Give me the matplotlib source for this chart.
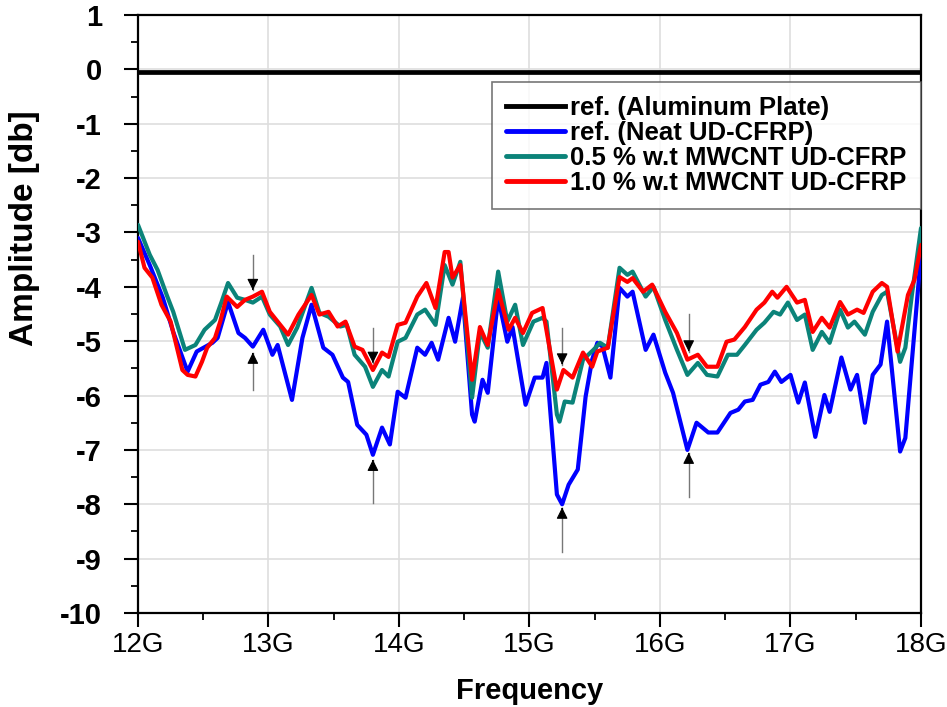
import matplotlib
matplotlib.use("Agg")
import matplotlib.pyplot as plt
from matplotlib.ticker import MultipleLocator

plt.rcParams['font.family'] = ['Liberation Sans', 'DejaVu Sans']
plt.rcParams['axes.unicode_minus'] = False

# ---------------- data ----------------
alu_freq = [12.0, 18.0]
alu_amp = [-0.04, -0.04]

blue_freq = [12.00, 12.09, 12.19, 12.27, 12.38, 12.45, 12.57, 12.61, 12.69, 12.77, 12.82, 12.88,
             12.96, 13.03, 13.07, 13.18, 13.26, 13.33, 13.42, 13.49, 13.57, 13.61, 13.68, 13.75,
             13.80, 13.87, 13.93, 13.99, 14.05, 14.14, 14.20, 14.25, 14.30, 14.38, 14.43, 14.49,
             14.56, 14.58, 14.64, 14.68, 14.76, 14.83, 14.87, 14.97, 15.04, 15.10, 15.13, 15.21,
             15.25, 15.30, 15.37, 15.43, 15.48, 15.52, 15.56, 15.62, 15.69, 15.75, 15.79, 15.89,
             15.95, 16.04, 16.10, 16.21, 16.28, 16.37, 16.44, 16.54, 16.60, 16.65, 16.71, 16.77,
             16.83, 16.88, 16.93, 17.00, 17.06, 17.11, 17.19, 17.26, 17.30, 17.39, 17.46, 17.51,
             17.57, 17.63, 17.69, 17.74, 17.84, 17.88, 18.00]
blue_amp = [-3.10, -3.60, -4.20, -4.83, -5.56, -5.19, -5.03, -4.94, -4.28, -4.85, -4.94, -5.10,
            -4.79, -5.25, -5.07, -6.08, -4.94, -4.33, -5.12, -5.25, -5.67, -5.75, -6.54, -6.72,
            -7.09, -6.59, -6.90, -5.93, -6.04, -5.12, -5.25, -5.03, -5.34, -4.57, -5.01, -4.20,
            -6.35, -6.48, -5.71, -5.95, -4.20, -5.01, -4.74, -6.17, -5.67, -5.67, -5.40, -7.82,
            -8.00, -7.64, -7.36, -6.02, -5.34, -5.03, -5.10, -5.67, -4.02, -4.18, -4.09, -5.16,
            -4.88, -5.58, -5.95, -7.00, -6.50, -6.68, -6.68, -6.32, -6.26, -6.11, -6.08, -5.80,
            -5.75, -5.56, -5.75, -5.62, -6.13, -5.76, -6.76, -5.99, -6.30, -5.30, -5.89, -5.62,
            -6.50, -5.62, -5.43, -4.64, -7.03, -6.78, -3.40]

teal_freq = [12.00, 12.09, 12.15, 12.22, 12.27, 12.36, 12.44, 12.51, 12.59, 12.64, 12.69, 12.76,
             12.82, 12.88, 12.95, 13.01, 13.09, 13.15, 13.22, 13.33, 13.39, 13.46, 13.55, 13.60,
             13.66, 13.74, 13.80, 13.87, 13.92, 13.99, 14.05, 14.14, 14.20, 14.28, 14.35, 14.41,
             14.47, 14.56, 14.62, 14.68, 14.76, 14.83, 14.89, 14.95, 15.03, 15.10, 15.13, 15.21,
             15.23, 15.27, 15.33, 15.41, 15.49, 15.54, 15.60, 15.69, 15.75, 15.79, 15.89, 15.95,
             16.04, 16.13, 16.21, 16.29, 16.36, 16.44, 16.52, 16.59, 16.65, 16.74, 16.80, 16.87,
             16.92, 16.98, 17.05, 17.11, 17.17, 17.24, 17.30, 17.38, 17.44, 17.49, 17.57, 17.63,
             17.70, 17.74, 17.84, 17.88, 17.93, 18.00]
teal_amp = [-2.86, -3.41, -3.69, -4.15, -4.46, -5.16, -5.07, -4.79, -4.61, -4.28, -3.93, -4.20,
            -4.24, -4.29, -4.18, -4.51, -4.73, -5.07, -4.75, -4.02, -4.48, -4.55, -4.73, -4.70,
            -5.25, -5.47, -5.84, -5.53, -5.65, -5.01, -4.94, -4.51, -4.42, -4.70, -3.60, -3.96,
            -3.54, -6.04, -4.83, -5.12, -3.72, -4.64, -4.33, -5.07, -4.64, -4.57, -4.64, -6.35,
            -6.48, -6.11, -6.13, -5.34, -5.16, -5.03, -5.12, -3.65, -3.78, -3.72, -4.18, -4.00,
            -4.61, -5.16, -5.62, -5.40, -5.62, -5.65, -5.25, -5.25, -5.07, -4.79, -4.66, -4.46,
            -4.51, -4.29, -4.61, -4.51, -5.16, -4.83, -5.03, -4.42, -4.75, -4.64, -4.88, -4.46,
            -4.15, -4.09, -5.38, -5.12, -4.15, -2.92]

red_freq = [12.00, 12.05, 12.11, 12.18, 12.25, 12.34, 12.38, 12.44, 12.49, 12.53, 12.59, 12.63,
            12.68, 12.76, 12.82, 12.88, 12.95, 13.01, 13.07, 13.15, 13.23, 13.33, 13.39, 13.46,
            13.53, 13.59, 13.66, 13.72, 13.80, 13.87, 13.92, 13.99, 14.05, 14.14, 14.21, 14.28,
            14.35, 14.38, 14.41, 14.47, 14.56, 14.62, 14.68, 14.76, 14.84, 14.89, 14.95, 15.02,
            15.10, 15.21, 15.26, 15.33, 15.41, 15.48, 15.52, 15.60, 15.69, 15.75, 15.79, 15.87,
            15.94, 16.04, 16.13, 16.21, 16.29, 16.36, 16.44, 16.51, 16.57, 16.65, 16.74, 16.80,
            16.86, 16.90, 16.97, 17.05, 17.11, 17.17, 17.24, 17.30, 17.38, 17.44, 17.51, 17.56,
            17.63, 17.70, 17.74, 17.82, 17.90, 17.95, 18.00]
red_amp = [-3.17, -3.65, -3.83, -4.33, -4.64, -5.53, -5.62, -5.65, -5.38, -5.12, -4.94, -4.64,
           -4.18, -4.37, -4.24, -4.18, -4.09, -4.46, -4.64, -4.88, -4.51, -4.15, -4.51, -4.46,
           -4.73, -4.64, -5.10, -5.16, -5.53, -5.21, -5.29, -4.70, -4.66, -4.18, -3.93, -4.39,
           -3.36, -3.36, -3.83, -3.60, -5.71, -4.74, -5.07, -4.06, -4.79, -4.57, -4.85, -4.48,
           -4.39, -5.89, -5.53, -5.67, -5.21, -5.47, -5.19, -5.12, -3.82, -3.91, -3.84, -4.09,
           -3.96, -4.46, -4.85, -5.34, -5.25, -5.47, -5.47, -5.01, -4.97, -4.74, -4.42, -4.29,
           -4.09, -4.20, -4.00, -4.29, -4.24, -4.83, -4.57, -4.75, -4.28, -4.51, -4.42, -4.48,
           -4.09, -3.93, -4.00, -5.19, -4.15, -3.87, -3.23]

# annotation arrows: x position, down-arrow (start, tip), up-arrow (start, tip)
arrow_x = [12.88, 13.80, 15.25, 16.22]
down_start = [-3.41, -4.75, -4.75, -4.50]
down_tip = [-4.06, -5.40, -5.43, -5.19]
up_start = [-5.89, -7.97, -8.87, -7.86]
up_tip = [-5.21, -7.18, -8.06, -7.05]

series_labels = ["ref. (Aluminum Plate)", "ref. (Neat UD-CFRP)",
                 "0.5 % w.t MWCNT UD-CFRP", "1.0 % w.t MWCNT UD-CFRP"]
xtick_vals = [12, 13, 14, 15, 16, 17, 18]
xtick_labels = ["12G", "13G", "14G", "15G", "16G", "17G", "18G"]
ytick_vals = [1, 0, -1, -2, -3, -4, -5, -6, -7, -8, -9, -10]
ytick_labels = ["1", "0", "-1", "-2", "-3", "-4", "-5", "-6", "-7", "-8", "-9", "-10"]

# ---------------- plot ----------------
fig = plt.figure(figsize=(9.47, 7.07), dpi=100)
ax = fig.add_axes([138/947, 1-613/707, (921-138)/947, (613-15)/707])

line_kw = dict(solid_joinstyle='round', solid_capstyle='round')
ax.plot(alu_freq, alu_amp, color='black', lw=3.4, label=series_labels[0], zorder=5)
ax.plot(blue_freq, blue_amp, color='#0000FF', lw=3.0, label=series_labels[1], zorder=3, **line_kw)
ax.plot(teal_freq, teal_amp, color='#0B8379', lw=3.0, label=series_labels[2], zorder=3, **line_kw)
ax.plot(red_freq, red_amp, color='#FF0000', lw=3.0, label=series_labels[3], zorder=4, **line_kw)

for xa, ds, dt, us, ut in zip(arrow_x, down_start, down_tip, up_start, up_tip):
    for s, t in ((ds, dt), (us, ut)):
        ax.plot([xa, xa], [s, t], color='#777777', lw=1.0, zorder=6)
        d = 0.02 if t < s else -0.02
        ax.annotate('', xy=(xa, t), xytext=(xa, t + d),
                    arrowprops=dict(arrowstyle='-|>', color='black', lw=0.8,
                                    mutation_scale=17, shrinkA=0, shrinkB=0), zorder=7)

ax.set_xlim(12, 18)
ax.set_ylim(-10, 1)
ax.set_xticks(xtick_vals)
ax.set_xticklabels(xtick_labels, fontsize=20)
ax.set_yticks(ytick_vals)
ax.set_yticklabels(ytick_labels, fontsize=21, fontweight='bold')
ax.xaxis.set_minor_locator(MultipleLocator(0.5))
ax.yaxis.set_minor_locator(MultipleLocator(0.5))
ax.tick_params(axis='both', which='major', direction='out', length=10, width=1.5)
ax.tick_params(axis='x', which='major', pad=4)
ax.tick_params(axis='y', which='major', pad=16)
ax.tick_params(axis='both', which='minor', direction='out', length=5, width=1.3)
ax.tick_params(top=False, right=False, which='both')

ax.grid(True, which='major', color='#dedede', lw=1.2, zorder=0)
ax.set_axisbelow(True)
for sp in ax.spines.values():
    sp.set_linewidth(1.6)
    sp.set_color('black')

ax.set_xlabel("Frequency", fontsize=21, fontweight='bold')
ax.xaxis.set_label_coords(0.5, -0.107)
ax.xaxis.label.set_va('top')
ax.set_ylabel("Amplitude [db]", fontsize=24, fontweight='bold')
ax.yaxis.set_label_coords(-0.125, 0.644)

leg = ax.legend(loc='upper right', bbox_to_anchor=(1.0, 0.888),
                prop={'weight': 'bold', 'size': 18.5}, frameon=True, fancybox=False,
                edgecolor='#555555', handlelength=2.3, handletextpad=0.2,
                borderpad=0.55, labelspacing=0.04, borderaxespad=0.0)
leg.get_frame().set_linewidth(1.2)
for line in leg.get_lines():
    line.set_linewidth(3.5)

fig.savefig("out.png", dpi=100)
